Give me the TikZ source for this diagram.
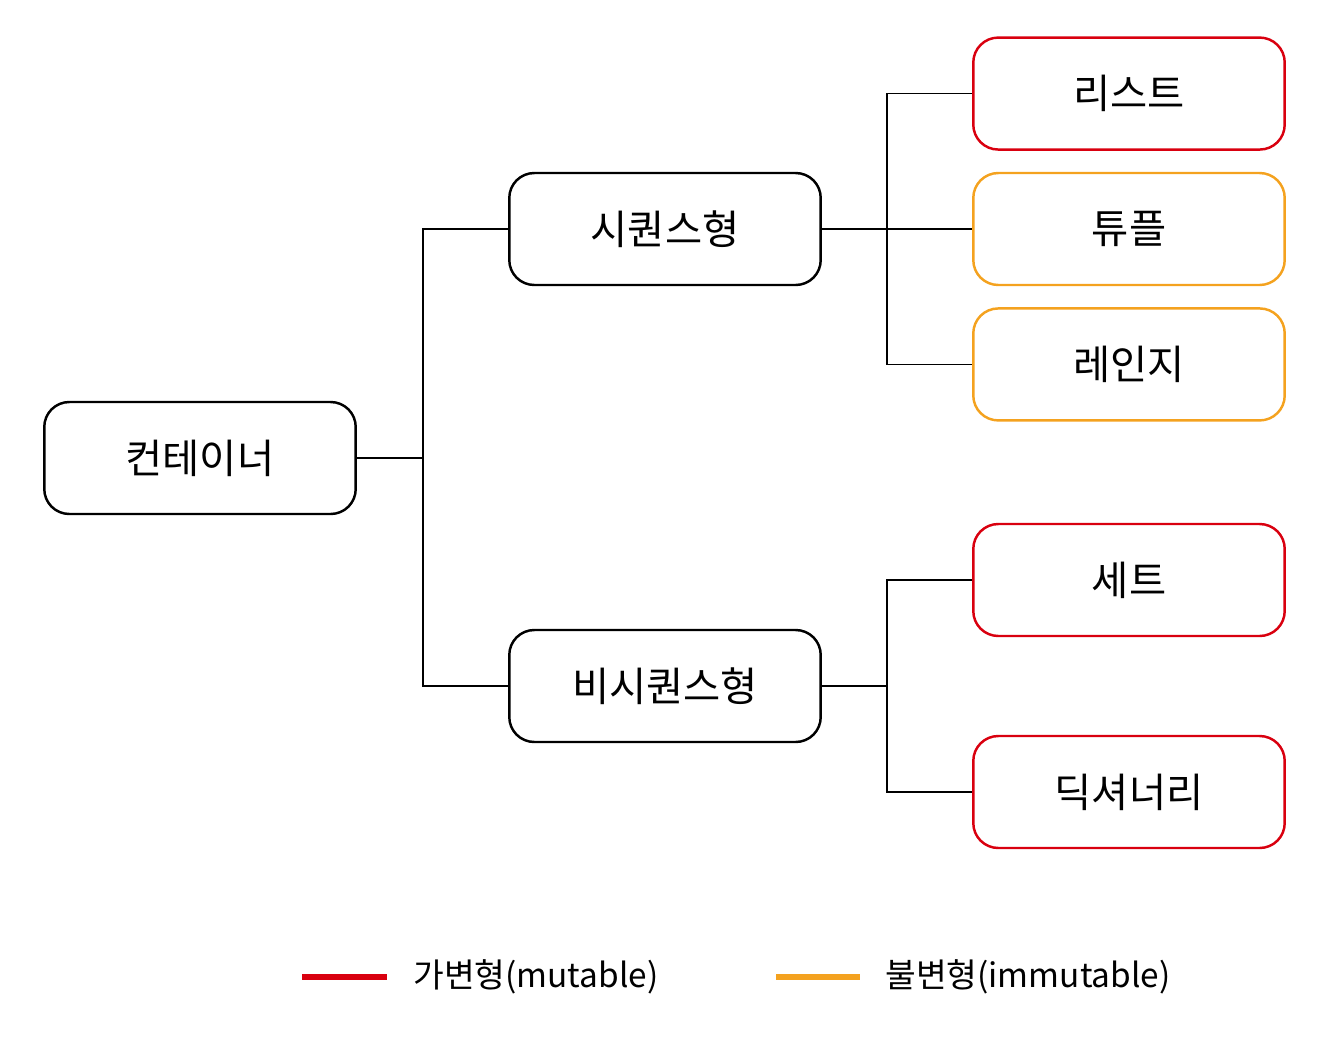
\documentclass[tikz,border=0pt]{standalone}
\usepackage{fontspec}
\setmainfont{Noto Sans CJK KR}
\usetikzlibrary{positioning}

\definecolor{mutred}{HTML}{D9000F}
\definecolor{immorange}{HTML}{F4A21F}

\begin{document}
\begin{tikzpicture}[x=0.02cm,y=-0.02cm,
  box/.style={draw,line width=1.4pt,rounded corners=0.5cm,minimum width=6.23cm,minimum height=2.24cm,
    font=\fontsize{23}{27}\selectfont},
  mutbox/.style={box,draw=mutred},
  immbox/.style={box,draw=immorange},
  link/.style={line width=0.75pt},
  keyline/.style={line width=3.4pt},
  keytext/.style={anchor=west,inner sep=0pt,font=\fontsize{19}{23}\selectfont},
  node distance=0.42cm]
\useasboundingbox (0,0) rectangle (1340,1038);
\node[box] (cont) at (200,458) {컨테이너};
\node[box] (seq) at (665,229) {시퀀스형};
\node[box] (nseq) at (665,686) {비시퀀스형};
\node[immbox] (tuple) at (1129,229) {튜플};
\node[mutbox,above=of tuple] (list) {리스트};
\node[immbox,below=of tuple] (range) {레인지};
\node[mutbox] (set) at (1129,580) {세트};
\node[mutbox] (dict) at (1129,792) {딕셔너리};
% tree connectors
\coordinate (jcont) at (423,458);
\coordinate (jseq) at (887,229);
\coordinate (jnseq) at (887,686);
\draw[link] (cont.east) -- (jcont);
\foreach \b in {seq,nseq}
  \draw[link] (jcont) |- (\b.west);
\draw[link] (seq.east) -- (jseq);
\foreach \b in {list,tuple,range}
  \draw[link] (jseq) |- (\b.west);
\draw[link] (nseq.east) -- (jnseq);
\foreach \b in {set,dict}
  \draw[link] (jnseq) |- (\b.west);
% legend
\coordinate (mutA) at (302,977);
\coordinate (mutB) at (387,977);
\coordinate (immA) at (776,977);
\coordinate (immB) at (860,977);
\draw[keyline,mutred] (mutA) -- (mutB);
\draw[keyline,immorange] (immA) -- (immB);
\node[keytext] (mutlabel) at (413,977) {가변형(mutable)};
\node[keytext] (immlabel) at (885,977) {불변형(immutable)};
\end{tikzpicture}
\end{document}
